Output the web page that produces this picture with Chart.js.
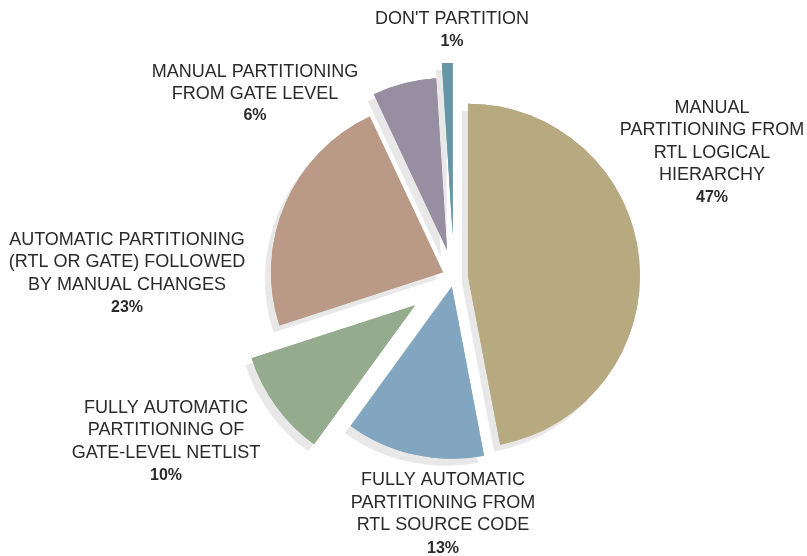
<!DOCTYPE html>
<html>
<head>
<meta charset="utf-8">
<script src="https://cdn.jsdelivr.net/npm/chart.js@4/dist/chart.umd.min.js"></script>
<style>
  html, body { margin: 0; padding: 0; background: #fff; }
  #wrap { width: 807px; height: 556px; position: relative; }
</style>
</head>
<body>
<div id="wrap"><canvas id="chart"></canvas></div>
<script>
// --- Data (clockwise from 12 o'clock) ---
const labels = [
  ["MANUAL", "PARTITIONING FROM", "RTL LOGICAL", "HIERARCHY"],
  ["FULLY AUTOMATIC", "PARTITIONING FROM", "RTL SOURCE CODE"],
  ["FULLY AUTOMATIC", "PARTITIONING OF", "GATE-LEVEL NETLIST"],
  ["AUTOMATIC PARTITIONING", "(RTL OR GATE) FOLLOWED", "BY MANUAL CHANGES"],
  ["MANUAL PARTITIONING", "FROM GATE LEVEL"],
  ["DON'T PARTITION"],
];
const shares = [47, 13, 10, 23, 6, 1];

// --- Style ---
const colors = ["#b7aa80", "#82a6bf", "#95ab8e", "#ba9986", "#988ea2", "#6696a6"];
const explode = [14, 10, 48, 12, 28, 42];          // px pulled out along each slice's mid angle
const labelAnchors = [                             // centre x, first line y, line step
  [712, 108, 22.5],
  [443, 480, 22.7],
  [166, 408, 22.5],
  [127, 240, 22.5],
  [255, 72, 22],
  [452, 19, 23],
];
const shadow = { color: "#e8e8e8", dx: -6, dy: 7 };
const textColor = "#2a2a2a";
const fontFamily = "'Liberation Sans', Arial, Helvetica, sans-serif";

// draw exploded slices with a flat drop shadow
const explodedPie = {
  id: "explodedPie",
  beforeDatasetDraw(chart, args) {
    const ctx = chart.ctx;
    const arcs = args.meta.data;
    const drawPass = (withShadow) => {
      arcs.forEach((arc, i) => {
        const mid = (arc.startAngle + arc.endAngle) / 2;
        ctx.save();
        ctx.translate(Math.cos(mid) * explode[i], Math.sin(mid) * explode[i]);
        if (withShadow) {
          ctx.shadowColor = shadow.color;
          ctx.shadowOffsetX = shadow.dx;
          ctx.shadowOffsetY = shadow.dy;
          ctx.shadowBlur = 0;
        }
        arc.draw(ctx);
        ctx.restore();
      });
    };
    drawPass(true);
    drawPass(false);
    return false;
  },
  afterDraw(chart) {
    const ctx = chart.ctx;
    ctx.save();
    ctx.fillStyle = textColor;
    ctx.textAlign = "center";
    ctx.textBaseline = "middle";
    labels.forEach((lines, i) => {
      const [x, y, step] = labelAnchors[i];
      ctx.font = `18px ${fontFamily}`;
      lines.forEach((line, j) => ctx.fillText(line, x, y + j * step));
      ctx.font = `bold 16px ${fontFamily}`;
      ctx.fillText(`${shares[i]}%`, x, y + lines.length * step);
    });
    ctx.restore();
  },
};

new Chart(document.getElementById("chart"), {
  type: "pie",
  data: {
    labels: labels.map((l) => l.join(" ")),
    datasets: [{
      data: shares,
      backgroundColor: colors,
      borderWidth: 0,
      hoverBorderWidth: 0,
      offset: 0,
      hoverOffset: 0,
    }],
  },
  options: {
    responsive: true,
    maintainAspectRatio: false,
    animation: false,
    events: [],
    layout: { padding: { top: 105, bottom: 107, left: 282, right: 181 } },
    plugins: {
      legend: { display: false },
      tooltip: { enabled: false },
    },
  },
  plugins: [explodedPie],
});
</script>
</body>
</html>
